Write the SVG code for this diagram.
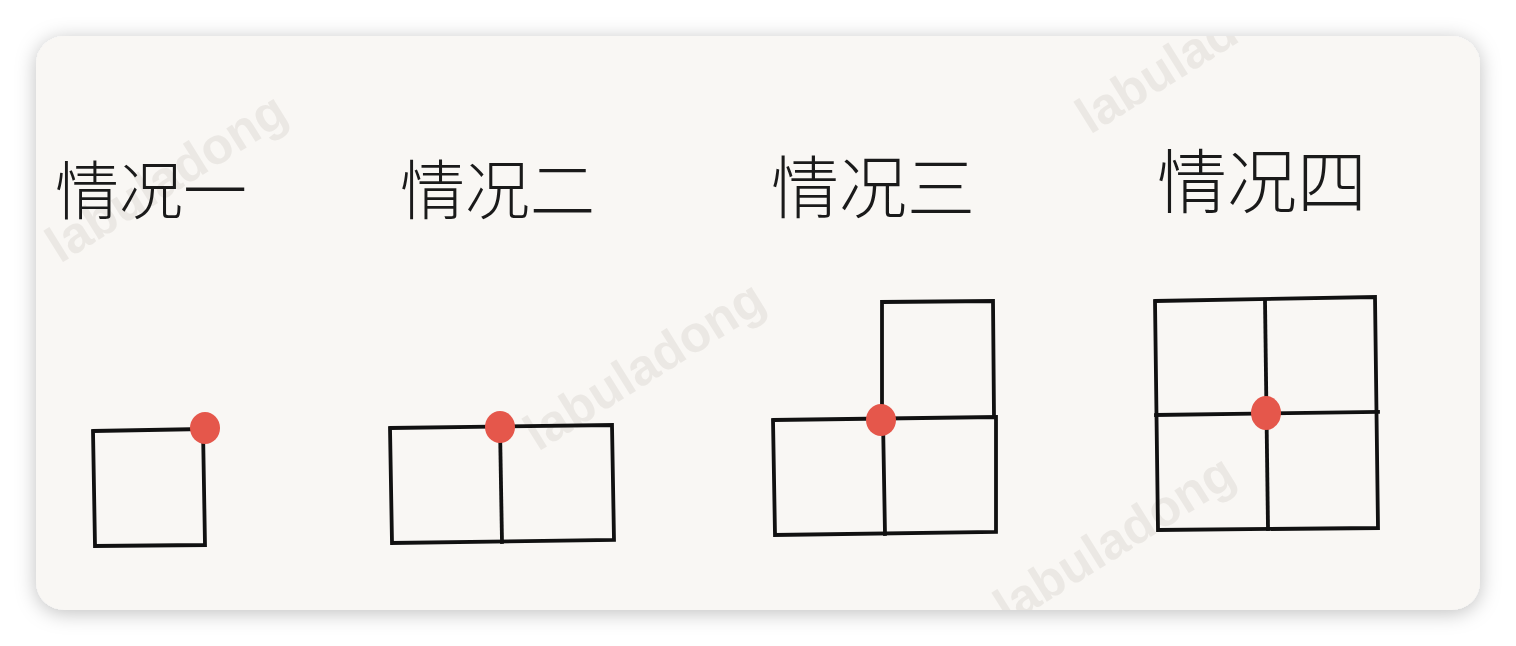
<svg xmlns="http://www.w3.org/2000/svg" width="1516" height="646" viewBox="0 0 1516 646">
  <style>
    .label { font-family: "Noto Sans CJK SC", "Noto Sans", sans-serif; font-weight: 300; fill: #1a1a1a; }
    .wm { font-family: "Liberation Sans", Arial, sans-serif; font-weight: bold; font-size: 51px; fill: #ebe8e4; }
    .grid { fill: none; stroke: #111; stroke-width: 3.8; stroke-linejoin: miter; stroke-linecap: square; }
    .dot { fill: #e5574b; }
  </style>
  <defs>
    <filter id="shadow" x="-10%" y="-10%" width="120%" height="130%">
      <feDropShadow dx="0" dy="3" stdDeviation="10" flood-color="#000" flood-opacity="0.25"/>
    </filter>
    <clipPath id="cardClip">
      <rect x="36" y="36" width="1444" height="574" rx="28" ry="28"/>
    </clipPath>
  </defs>
  <rect width="1516" height="646" fill="#ffffff"/>
  <rect id="card" x="36" y="36" width="1444" height="574" rx="28" ry="28" fill="#f9f7f4" filter="url(#shadow)"/>
  <g id="watermarks" clip-path="url(#cardClip)">
    <text class="wm" x="60" y="264" transform="rotate(-32 60 264)">labuladong</text>
    <text class="wm" x="538" y="452" transform="rotate(-32 538 452)">labuladong</text>
    <text class="wm" x="1090" y="135" transform="rotate(-32 1090 135)">labuladong</text>
    <text class="wm" x="1008" y="626" transform="rotate(-32 1008 626)">labuladong</text>
  </g>

  <g id="case1">
    <text class="label" x="55" y="214" font-size="64">情况一</text>
    <path class="grid" d="M93,431 L203,429 L205,545 L95,546 Z"/>
    <ellipse class="dot" cx="205" cy="428" rx="15" ry="16"/>
  </g>

  <g id="case2">
    <text class="label" x="400" y="214" font-size="65">情况二</text>
    <path class="grid" d="M390,428 L612,425 L614,540 L392,543 Z"/>
    <path class="grid" d="M500,427 L502,542"/>
    <ellipse class="dot" cx="500" cy="427" rx="15" ry="16"/>
  </g>

  <g id="case3">
    <text class="label" x="771" y="213" font-size="68">情况三</text>
    <path class="grid" d="M773,420 L996,417 L996,532 L775,535 Z"/>
    <path class="grid" d="M883,420 L885,534"/>
    <path class="grid" d="M882,420 L882,302 L993,301 L994,417"/>
    <ellipse class="dot" cx="881" cy="420" rx="15" ry="16"/>
  </g>

  <g id="case4">
    <text class="label" x="1157" y="208" font-size="70">情况四</text>
    <path class="grid" d="M1155,301 L1375,297 L1378,528 L1158,530 Z"/>
    <path class="grid" d="M1156,415 L1378,412"/>
    <path class="grid" d="M1265,300 L1268,529"/>
    <ellipse class="dot" cx="1266" cy="413" rx="15" ry="17"/>
  </g>

  <g id="connectors"></g>
</svg>
